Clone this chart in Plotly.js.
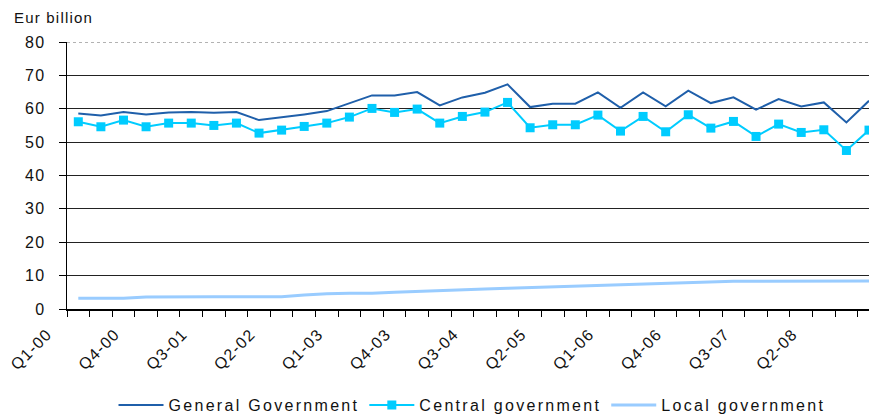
<!DOCTYPE html>
<html>
<head>
<meta charset="utf-8">
<script src="https://cdn.plot.ly/plotly-3.0.1.min.js"></script>
<style>
html,body{margin:0;padding:0;background:#fff;}
text{letter-spacing:1.2px;}
text.legendtext{letter-spacing:2.3px;}
</style>
</head>
<body>
<div id="chart" style="width:869px;height:415px;"></div>
<script>
var quarters = [
  "Q1-00","Q2-00","Q3-00","Q4-00","Q1-01","Q2-01","Q3-01","Q4-01","Q1-02","Q2-02","Q3-02","Q4-02",
  "Q1-03","Q2-03","Q3-03","Q4-03","Q1-04","Q2-04","Q3-04","Q4-04","Q1-05","Q2-05","Q3-05","Q4-05",
  "Q1-06","Q2-06","Q3-06","Q4-06","Q1-07","Q2-07","Q3-07","Q4-07","Q1-08","Q2-08","Q3-08","Q4-08"
];
var generalGov = [58.6,58.0,59.0,58.3,58.9,59.0,58.8,59.0,56.6,57.4,58.3,59.3,
  61.7,64.0,64.0,65.0,61.0,63.4,64.8,67.3,60.5,61.5,61.5,64.9,
  60.3,64.9,60.7,65.4,61.7,63.4,59.7,62.9,60.7,61.9,55.9,62.4];
var centralGov = [56.1,54.6,56.6,54.6,55.7,55.7,55.0,55.7,52.7,53.6,54.7,55.7,
  57.5,60.1,58.9,59.9,55.7,57.7,59.0,61.9,54.3,55.2,55.2,58.1,
  53.3,57.7,53.1,58.2,54.2,56.2,51.7,55.4,52.9,53.7,47.5,53.6];
var localGov = [3.2,3.2,3.2,3.6,3.7,3.7,3.7,3.7,3.7,3.7,4.2,4.6,
  4.7,4.7,5.0,5.3,5.6,5.7,6.0,6.2,6.4,6.8,6.9,7.1,
  7.3,7.6,7.8,7.9,8.2,8.3,8.3,8.3,8.4,8.4,8.4,8.4];
var seriesNames = ["General Government","Central government","Local government"];
var yTicks = [0,10,20,30,40,50,60,70,80];
var tickLabels = quarters.map(function(q,i){ return i % 3 === 0 ? q : ""; });

var font = {family: "Arial, 'Liberation Sans', sans-serif", size: 16, color: "#111"};

var traces = [
  {x: quarters, y: generalGov, name: seriesNames[0], type: "scatter", mode: "lines",
   line: {color: "#1F5FAA", width: 2}},
  {x: quarters, y: centralGov, name: seriesNames[1], type: "scatter", mode: "lines+markers",
   line: {color: "#00CCFF", width: 2}, marker: {symbol: "square", size: 9, color: "#00CCFF"}},
  {x: quarters, y: localGov, name: seriesNames[2], type: "scatter", mode: "lines",
   line: {color: "#99CCFF", width: 3}}
];

var layout = {
  width: 869, height: 415,
  margin: {l: 67, r: 0, t: 42, b: 106, autoexpand: false},
  paper_bgcolor: "#fff", plot_bgcolor: "#fff",
  font: font,
  showlegend: true,
  legend: {orientation: "h", x: 0.505, xanchor: "center", y: -0.36, yanchor: "middle",
           font: font, itemwidth: 45, tracegroupgap: 0},
  xaxis: {
    type: "category", categoryorder: "array", categoryarray: quarters,
    range: [-0.5, 35],
    tickmode: "array", tickvals: quarters, ticktext: tickLabels,
    tickson: "boundaries", ticks: "outside", ticklen: 6, tickcolor: "#000", tickwidth: 1,
    showline: true, linecolor: "#000", linewidth: 1.5,
    showgrid: false, zeroline: false,
    tickangle: -45, ticklabelshift: -31, ticklabelstandoff: 8,
    tickfont: font
  },
  yaxis: {
    range: [0, 80], tickmode: "array", tickvals: yTicks,
    ticks: "outside", ticklen: 7, tickcolor: "#000",
    showline: true, linecolor: "#000", linewidth: 1.5,
    showgrid: true, gridcolor: "#222", gridwidth: 1,
    zeroline: false, ticklabelstandoff: 10,
    tickfont: font
  },
  shapes: [
    {type: "line", xref: "paper", x0: 0, x1: 1, yref: "y", y0: 80, y1: 80,
     line: {color: "#fff", width: 3}, layer: "above"},
    {type: "line", xref: "paper", x0: 0, x1: 1, yref: "y", y0: 80, y1: 80,
     line: {color: "#999", width: 1.5, dash: "dot"}, layer: "above"}
  ],
  annotations: [
    {text: "Eur billion", xref: "paper", yref: "paper", x: -0.068, y: 1.09,
     xanchor: "left", yanchor: "middle", showarrow: false,
     font: {family: font.family, size: 15, color: "#111"}}
  ]
};

Plotly.newPlot("chart", traces, layout, {displayModeBar: false, staticPlot: true});
</script>
</body>
</html>
